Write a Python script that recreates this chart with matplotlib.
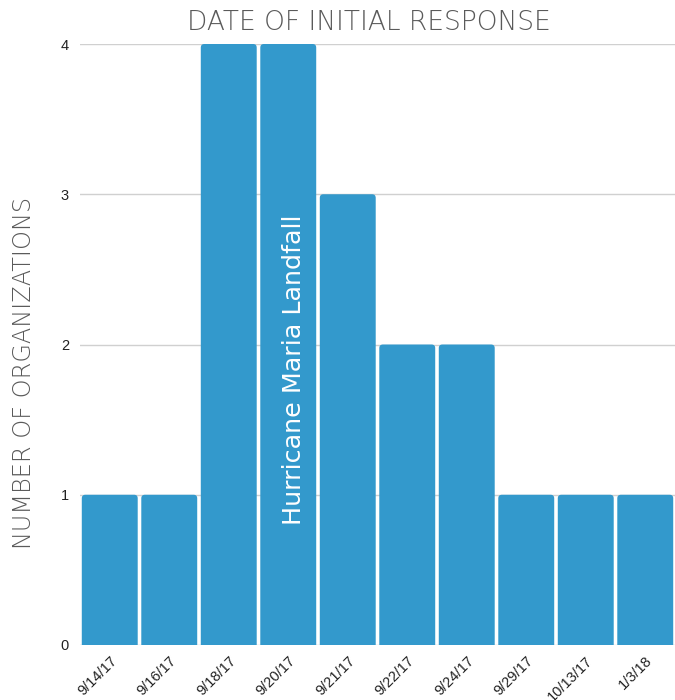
import numpy as np
import matplotlib
matplotlib.use('Agg')
from matplotlib import pyplot as plt
from matplotlib.patches import FancyBboxPatch

# organizations per date of first response
dates = ['9/14/17', '9/16/17', '9/18/17', '9/20/17', '9/21/17',
         '9/22/17', '9/24/17', '9/29/17', '10/13/17', '1/3/18']
counts = [1, 1, 4, 4, 3, 2, 2, 1, 1, 1]

bar_col = '#3399cc'
grey = '#5a5a5a'

fig = plt.figure(figsize=(6.75, 7.0), dpi=100)
ax = fig.add_axes([80/675, 55/700, 595/675, 601/700])

x = np.arange(len(dates))
bw = 0.94
# bars with slightly rounded tops; bottoms sit below the axis and get clipped
for xi, c in zip(x, counts):
    p = FancyBboxPatch((xi - bw/2, -0.1), bw, c + 0.1,
                       boxstyle='round,pad=0,rounding_size=0.06',
                       mutation_aspect=0.4, facecolor=bar_col,
                       edgecolor='none', zorder=2)
    ax.add_patch(p)

ax.set_xlim(-0.5, len(dates) - 0.5)
ax.set_ylim(0, 4)
ax.set_yticks([0, 1, 2, 3, 4])
ax.yaxis.grid(True, color='#d0d0d0', linewidth=1, zorder=0)
for s in ax.spines.values():
    s.set_visible(False)
ax.tick_params(axis='both', length=0, labelsize=10.5, labelcolor='#222222')
ax.tick_params(axis='x', pad=6)
ax.tick_params(axis='y', pad=8)
ax.set_xticks(x)
ax.set_xticklabels(dates, rotation=45, ha='right', rotation_mode='anchor',
                   family='Liberation Sans')
for t in ax.get_yticklabels():
    t.set_family('Liberation Sans')

ax.set_title('DATE OF INITIAL RESPONSE', family='DejaVu Sans', fontweight='light',
             fontsize=19, color=grey, x=0.4855, pad=10)
ax.set_ylabel('NUMBER OF ORGANIZATIONS', family='DejaVu Sans', fontweight='light',
              fontsize=17.3, color=grey)
ax.yaxis.set_label_coords(-0.074, 0.452)

ax.text(3.1, 1.83, 'Hurricane Maria Landfall', rotation=90, color='white',
        family='DejaVu Sans', fontsize=18.3, ha='center', va='center', zorder=3)

fig.savefig('out.png', dpi=100)
